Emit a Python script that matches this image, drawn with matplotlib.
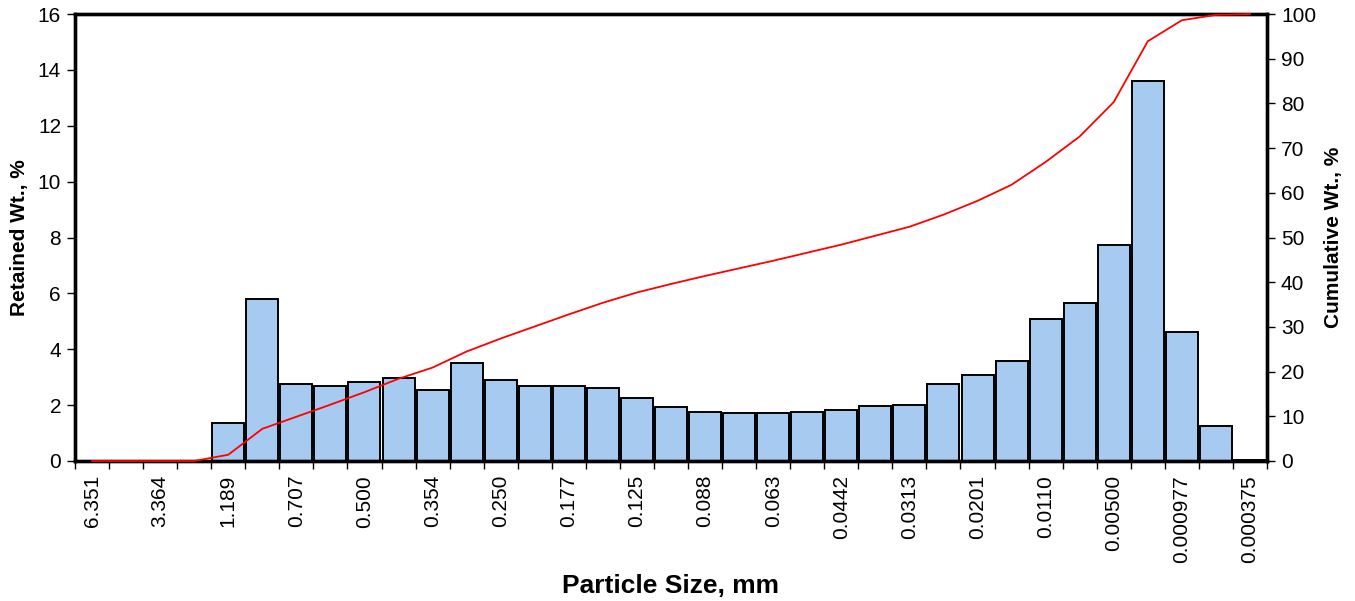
import numpy as np
import matplotlib
matplotlib.use("Agg")
import matplotlib.pyplot as plt

plt.rcParams['font.family'] = ['Liberation Sans', 'DejaVu Sans']

# labels shown on every other size class
size_labels = ["6.351", "3.364", "1.189", "0.707", "0.500", "0.354", "0.250",
               "0.177", "0.125", "0.088", "0.063", "0.0442", "0.0313",
               "0.0201", "0.0110", "0.00500", "0.000977", "0.000375"]

# retained weight per size class, %
retained = [0, 0, 0, 0, 1.37, 5.79, 2.74, 2.68, 2.82, 2.96, 2.54, 3.50,
            2.89, 2.67, 2.67, 2.61, 2.27, 1.92, 1.77, 1.71, 1.71, 1.77,
            1.84, 1.98, 1.99, 2.74, 3.09, 3.58, 5.10, 5.64, 7.72, 13.59,
            4.62, 1.24, 0.05]

# cumulative weight, %
cumulative = [0, 0, 0, 0, 1.4, 7.2, 9.9, 12.6, 15.4, 18.4, 20.9, 24.5,
              27.4, 30.1, 32.8, 35.4, 37.7, 39.6, 41.4, 43.1, 44.8, 46.6,
              48.4, 50.4, 52.4, 55.1, 58.2, 61.8, 66.9, 72.6, 80.3, 93.9,
              98.6, 99.8, 100]

n = len(retained)
x = np.arange(n)

fig = plt.figure(figsize=(13.55, 6.01), dpi=100)
ax1 = fig.add_axes([75 / 1355, 1 - 461 / 601, (1267 - 75) / 1355, (461 - 14) / 601])
ax2 = ax1.twinx()

ax1.bar(x, retained, width=0.94, color='#A6CAF0', edgecolor='black', linewidth=1.4)
ax2.plot(x, cumulative, color='red', linewidth=1.3, clip_on=False, zorder=5)

ax1.set_xlim(-0.5, n - 0.5)
ax1.set_ylim(0, 16)
ax1.set_yticks(range(0, 17, 2))
ax2.set_ylim(0, 100)
ax2.set_yticks(range(0, 101, 10))

# ticks between categories, labels on every other category
ax1.set_xticks(np.arange(-0.5, n, 1.0))
ax1.set_xticklabels([])
ax1.set_xticks(np.arange(0, n, 2), minor=True)
ax1.set_xticklabels(size_labels, minor=True, rotation=90, fontsize=15)
ax1.tick_params(axis='x', which='major', direction='out', length=6, width=1)
ax1.tick_params(axis='x', which='minor', length=0, pad=10)
ax1.tick_params(axis='y', direction='out', length=6, width=1, labelsize=15, pad=4)
ax2.tick_params(axis='y', direction='out', length=6, width=1, labelsize=15, pad=4)

for ax in (ax1, ax2):
    for s in ax.spines.values():
        s.set_linewidth(2.4)
        s.set_color('black')

ax1.set_xlabel('Particle Size, mm', fontsize=19, fontweight='bold', labelpad=8)
ax1.set_ylabel('Retained Wt., %', fontsize=15, fontweight='bold', labelpad=6)
ax2.set_ylabel('Cumulative Wt., %', fontsize=15, fontweight='bold', labelpad=6)

fig.savefig('out.png', dpi=100)
plt.close(fig)
